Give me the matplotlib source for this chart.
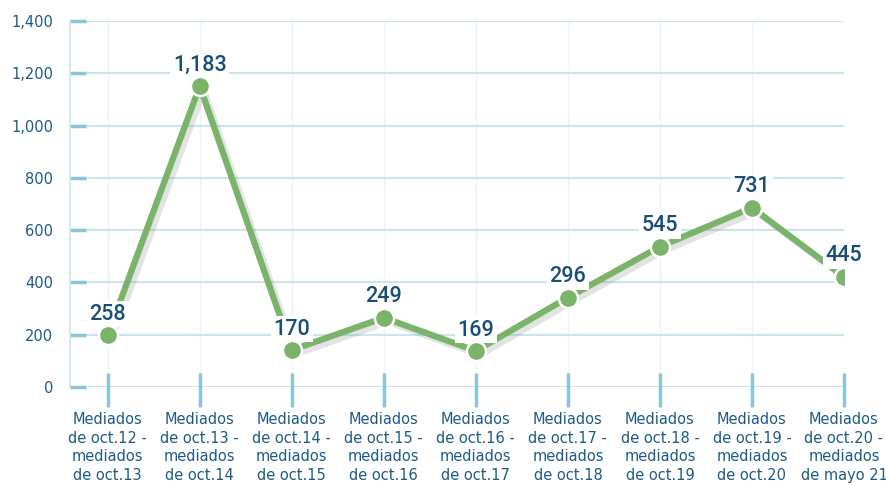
import matplotlib
matplotlib.use("Agg")
import matplotlib.patheffects as pe
import matplotlib.transforms as mtransforms
import numpy as np
from matplotlib import pyplot as plt
from matplotlib.ticker import FuncFormatter

periods = [
    "Mediados\nde oct.12 -\nmediados\nde oct.13",
    "Mediados\nde oct.13 -\nmediados\nde oct.14",
    "Mediados\nde oct.14 -\nmediados\nde oct.15",
    "Mediados\nde oct.15 -\nmediados\nde oct.16",
    "Mediados\nde oct.16 -\nmediados\nde oct.17",
    "Mediados\nde oct.17 -\nmediados\nde oct.18",
    "Mediados\nde oct.18 -\nmediados\nde oct.19",
    "Mediados\nde oct.19 -\nmediados\nde oct.20",
    "Mediados\nde oct.20 -\nmediados\nde mayo 21",
]
# values printed on the labels
values = [258, 1183, 170, 249, 169, 296, 545, 731, 445]
# where the markers actually sit in the picture
marker_y = [199, 1151, 141, 265, 138, 342, 537, 686, 422]

text_color = "#1d5b86"
label_color = "#174e78"
green = "#7ab46b"
grid_color = "#cbe5eb"
tick_color = "#8ac7d5"

plt.rcParams["font.family"] = ["DejaVu Sans"]

fig = plt.figure(figsize=(8.86, 4.86), dpi=100)
ax = fig.add_axes([70 / 886, 99 / 486, 774 / 886, 366 / 486])
x = np.arange(len(periods))

ax.set_xlim(-0.41, 8)
ax.set_ylim(0, 1400)
ax.set_yticks(range(0, 1401, 200))
ax.yaxis.set_major_formatter(FuncFormatter(lambda v, p: f"{int(v):,}"))
ax.grid(axis="y", color=grid_color, linewidth=1.5, zorder=0)
for xi in x:
    ax.axvline(xi, color="#eef4f6", linewidth=1, zorder=0)

for s in ["top", "right", "bottom"]:
    ax.spines[s].set_visible(False)
ax.spines["left"].set_color(grid_color)
ax.spines["left"].set_linewidth(1.2)

ax.tick_params(axis="y", direction="in", length=11.5, width=2.5, color=tick_color,
               pad=12, labelsize=10.5, labelcolor=text_color)
ax.set_xticks(x)
ax.set_xticklabels(periods, linespacing=1.3)
ax.tick_params(axis="x", length=0, pad=18, labelsize=10.5, labelcolor=text_color)

# x ticks crossing the baseline
trans = mtransforms.blended_transform_factory(ax.transData, ax.transAxes)
ax.vlines(x, -20 / 366, 14 / 366, colors=tick_color, linewidth=2.5,
          transform=trans, clip_on=False, zorder=3)

ax.plot(x, marker_y, color=green, linewidth=4.5, zorder=4,
        path_effects=[pe.SimpleLineShadow(offset=(3, -3), shadow_color="#777777", alpha=0.2),
                      pe.Normal()])
ax.scatter(x, marker_y, s=190, color=green, edgecolors="white", linewidths=1.8, zorder=5)

for xi, yi, v in zip(x, marker_y, values):
    ax.annotate(f"{v:,}", (xi, yi), xytext=(0, 15), textcoords="offset points",
                ha="center", va="center", fontsize=15.5, family="Roboto",
                fontweight="medium", color=label_color, zorder=6,
                bbox=dict(boxstyle="square,pad=0.12", facecolor="white", edgecolor="none"))

fig.savefig("out.png", dpi=100)
